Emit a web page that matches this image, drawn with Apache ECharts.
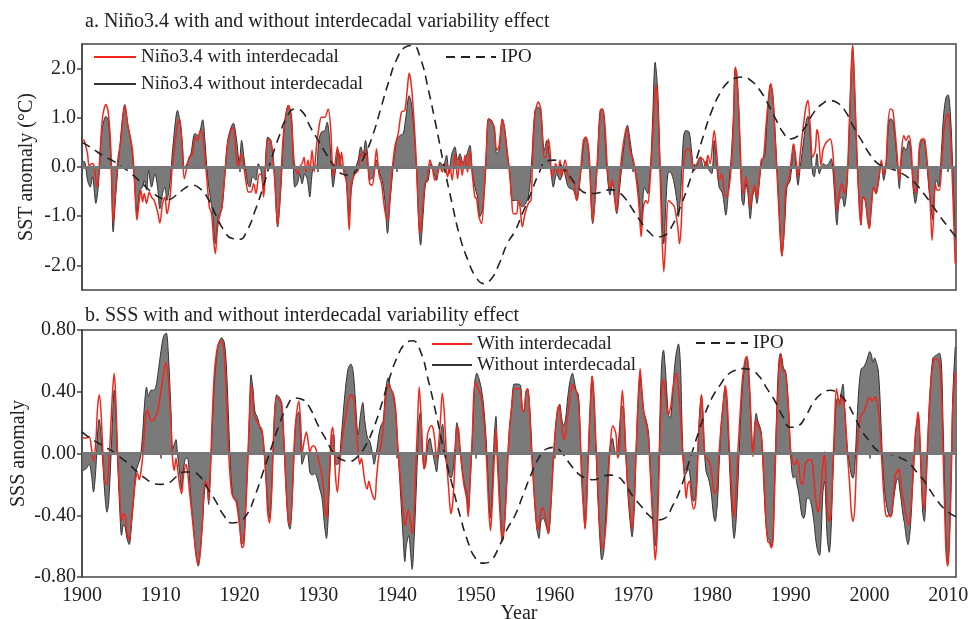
<!DOCTYPE html>
<html>
<head>
<meta charset="utf-8">
<script src="https://cdn.jsdelivr.net/npm/echarts@6/dist/echarts.min.js"></script>
<style>
  html, body { margin: 0; background: #fff; }
  #chart { width: 968px; height: 619px; }
</style>
</head>
<body>
<div id="chart"></div>
<script>
// tick positions
const yearTicks = [1900, 1910, 1920, 1930, 1940, 1950, 1960, 1970, 1980, 1990, 2000, 2010]
const sstTicks = [-2, -1, 0, 1, 2]
const sssTicks = [-0.8, -0.4, 0, 0.4, 0.8]

// panel a: Nino3.4 SST anomaly, [year, value]
const sstWith = [
  [1900.06,0.55],[1900.28,0.54],[1900.70,0.27],[1900.91,0.03],[1901.33,0.07],[1901.55,0],[1901.89,-0.41],[1902.18,0],[1902.61,1.01],[1903.03,1.27],[1903.33,1.12],[1903.67,0.34],[1903.96,-1.12],[1904.30,-0.41],[1904.60,0.2],[1904.94,0.54],[1905.44,1.25],[1905.78,0.88],[1906.12,0.61],[1906.42,0.34],[1906.72,-0.41],[1906.97,-1.08],[1907.27,-0.68],[1907.48,-0.47],[1907.69,-0.71],[1907.90,-0.54],[1908.20,-0.74],[1908.54,-0.51],[1908.83,-0.61],[1909.17,-0.68],[1909.60,-0.91],[1909.89,-1.14],[1910.23,-0.74],[1910.53,-0.61],[1910.78,-0.95],[1911.21,-0.57],[1911.42,-0.07],[1911.72,0.34],[1912.14,0.88],[1912.39,0.98],[1912.65,0.61],[1912.99,-0.24],[1913.33,0],[1913.62,0.2],[1914.05,0.27],[1914.39,0.61],[1914.68,0.54],[1915.02,0.74],[1915.32,0.68],[1915.53,0.34],[1915.87,-0.27],[1916.17,-0.81],[1916.46,-0.95],[1916.72,-1.49],[1916.93,-1.76],[1917.22,-1.22],[1917.56,-0.95],[1917.78,-0.81],[1918.07,-0.27],[1918.50,0.47],[1918.92,0.74],[1919.22,0.81],[1919.56,0.27],[1919.85,-0.03],[1920.19,0.27],[1920.49,0.07],[1920.83,-0.3],[1921.12,-0.51],[1921.46,-0.51],[1921.80,-0.34],[1922.10,-0.54],[1922.52,-0.14],[1922.82,-0.17],[1923.07,-0.61],[1923.37,0.14],[1923.58,0.57],[1923.92,0.54],[1924.22,0.27],[1924.51,-0.34],[1924.85,-1.18],[1925.19,-0.47],[1925.49,0.47],[1925.78,0.95],[1926.21,1.25],[1926.55,1.01],[1926.97,0.07],
  [1927.36,-0.14],[1927.66,0],[1927.95,0.07],[1928.21,0.2],[1928.42,-0.1],[1928.71,0.14],[1928.93,-0.07],[1929.22,0.34],[1929.48,-0.1],[1929.77,0.41],[1930.07,0.78],[1930.41,1.01],[1930.83,1.01],[1931.26,1.18],[1931.60,0.74],[1931.89,-0.2],[1932.10,0],[1932.44,0.41],[1932.74,0],[1932.95,0.3],[1933.29,-0.14],[1933.59,-0.27],[1933.93,-1.28],[1934.22,-0.34],[1934.65,-0.14],[1935.07,-0.07],[1935.41,0.27],[1935.71,0.2],[1936.00,0.34],[1936.34,-0.03],[1936.55,-0.34],[1936.85,-0.37],[1937.10,-0.14],[1937.40,0.37],[1937.70,-0.14],[1938.04,-0.34],[1938.46,-0.88],[1938.80,-1.08],[1939.10,-0.61],[1939.39,-0.07],[1939.73,0.41],[1940.16,0.68],[1940.58,1.12],[1941.00,1.15],[1941.30,1.56],[1941.55,1.91],[1941.85,1.62],[1942.19,0.88],[1942.49,0],[1942.70,-0.81],[1942.91,-1.35],[1943.21,-0.95],[1943.55,-0.34],[1943.89,-0.2],[1944.18,0.14],[1944.48,0],[1944.82,-0.27],[1945.15,-0.14],[1945.45,0.03],[1945.75,-0.1],[1946.09,0.07],[1946.43,-0.2],[1946.72,0.03],[1947.02,-0.27],[1947.36,0.27],[1947.70,-0.24],[1948.00,0.2],[1948.29,-0.17],[1948.63,0.24],[1948.97,-0.1],[1949.27,0.34],[1949.56,-0.14],[1949.90,-0.61],[1950.11,-0.64],[1950.41,-1.01],[1950.75,-1.15],[1951.09,-0.47],[1951.38,0.41],[1951.68,0.98],[1952.02,0.91],[1952.36,0.81],[1952.66,0.34],[1952.95,0.41],[1953.38,0.96],[1953.63,0.81],[1953.93,0.34],[1954.22,0],[1954.56,-0.61],[1954.77,-0.95],
  [1955.20,-0.95],[1955.41,-0.68],[1955.63,-0.81],[1955.92,-1.22],[1956.26,-0.95],[1956.68,-0.74],[1957.02,-0.68],[1957.19,0],[1957.53,1.08],[1957.96,1.32],[1958.29,1.15],[1958.68,0.2],[1958.93,0.2],[1959.23,0.57],[1959.44,0.34],[1959.65,-0.2],[1959.86,-0.14],[1960.16,0.07],[1960.41,-0.14],[1960.71,0.14],[1960.92,-0.2],[1961.35,0.14],[1961.77,-0.2],[1962.11,-0.3],[1962.40,-0.27],[1962.83,-0.68],[1963.25,-0.2],[1963.68,0.54],[1963.97,0.61],[1964.40,0.27],[1964.65,-0.68],[1964.86,-1.12],[1965.16,-0.61],[1965.58,0.47],[1965.88,1.15],[1966.13,1.18],[1966.43,0.81],[1966.77,-0.14],[1967.06,-0.44],[1967.36,-0.27],[1967.57,-0.54],[1967.91,-0.91],[1968.21,-0.34],[1968.63,0.34],[1969.18,0.81],[1969.61,0.34],[1970.03,0.14],[1970.46,-0.34],[1970.75,-0.81],[1971.01,-1.42],[1971.30,-0.81],[1971.60,-0.68],[1971.85,-0.74],[1972.15,-0.27],[1972.45,0.54],[1972.70,1.28],[1972.91,1.66],[1973.12,1.28],[1973.42,-0.14],[1973.68,-1.49],[1973.89,-2.13],[1974.14,-1.49],[1974.48,-0.68],[1974.90,-0.74],[1975.24,-0.81],[1975.67,-1.22],[1975.88,-1.56],[1976.09,-1.22],[1976.39,0],[1976.68,0.34],[1977.02,0.37],[1977.36,0.24],[1977.66,-0.07],[1978.08,0],[1978.51,0.2],[1978.93,0.14],[1979.23,0],[1979.48,0.24],[1979.78,0.07],[1980.29,0.74],[1980.62,0.27],[1980.92,-0.27],[1981.26,-0.14],[1981.60,-0.54],[1981.89,-0.61],[1982.19,-0.41],[1982.45,0],[1982.74,0.88],
  [1982.96,2.03],[1983.17,1.89],[1983.38,1.22],[1983.60,0.41],[1983.81,-0.41],[1984.02,-0.54],[1984.32,-0.2],[1984.57,-0.41],[1984.87,-0.81],[1985.16,-0.54],[1985.42,-0.37],[1985.71,-0.61],[1986.01,-0.27],[1986.27,0.14],[1986.56,0.2],[1986.86,0.81],[1987.20,1.42],[1987.45,1.69],[1987.75,1.42],[1988.04,0.54],[1988.38,-0.47],[1988.68,-1.42],[1988.89,-1.81],[1989.10,-1.42],[1989.40,-0.41],[1989.74,-0.27],[1990.08,0.14],[1990.37,0.47],[1990.59,0.27],[1990.93,-0.2],[1991.22,0.27],[1991.65,0.88],[1991.94,1.22],[1992.20,1.35],[1992.49,0.81],[1992.79,0.2],[1993.13,0.34],[1993.34,0.76],[1993.55,0.61],[1993.85,0.03],[1994.10,0.34],[1994.40,0.47],[1994.74,0.54],[1995.04,0.57],[1995.33,0.34],[1995.59,-0.27],[1995.88,-0.88],[1996.18,-0.54],[1996.52,-0.34],[1996.81,-0.54],[1997.15,-0.27],[1997.45,0.88],[1997.71,2.03],[1997.87,2.47],[1998.13,1.56],[1998.43,0.2],[1998.72,-0.81],[1998.93,-1.18],[1999.19,-0.61],[1999.48,-0.68],[1999.78,-1.08],[1999.99,-1.25],[2000.25,-0.81],[2000.54,-0.41],[2000.84,-0.54],[2001.18,-0.27],[2001.52,0.14],[2001.82,-0.14],[2002.11,0.07],[2002.37,0.88],[2002.66,1.18],[2002.96,1.15],[2003.21,0.81],[2003.51,0.27],[2003.81,-0.27],[2004.06,0.27],[2004.36,0.64],[2004.66,0.54],[2004.99,0.64],[2005.29,0.41],[2005.54,-0.27],[2005.84,-0.54],[2006.14,-0.27],[2006.35,0.41],[2006.69,0.57],[2006.98,0.57],[2007.20,0.34],[2007.54,-0.27],[2007.75,-0.81],[2007.96,-1.49],[2008.17,-0.95],[2008.38,-0.34],[2008.59,-0.47],[2008.89,-0.47],[2009.23,0.2],[2009.57,0.88],[2009.95,1.08],[2010.29,0.68],[2010.58,-0.47],[2010.90,-1.96]
]
const sstWithout = [
  [1900.06,0.12],[1900.36,0.1],[1900.70,-0.27],[1901.04,-0.41],[1901.33,-0.2],[1901.76,-0.74],[1902.10,-0.34],[1902.48,0.68],[1903.03,1.03],[1903.33,0.95],[1903.67,0.14],[1903.96,-1.32],[1904.30,-0.54],[1904.72,0.27],[1905.44,1.27],[1905.87,0.81],[1906.21,0.54],[1906.55,0],[1906.97,-0.95],[1907.35,-0.47],[1907.69,-0.41],[1907.90,-0.27],[1908.20,-0.47],[1908.45,-0.07],[1908.83,-0.41],[1909.26,-0.14],[1909.60,-0.41],[1909.89,-0.85],[1910.23,-0.54],[1910.53,-0.41],[1910.78,-0.68],[1911.21,-0.27],[1911.50,0.34],[1912.14,1.15],[1912.48,0.88],[1912.78,0.41],[1912.99,-0.03],[1913.33,0.07],[1913.83,0.27],[1914.34,0.68],[1914.77,0.64],[1915.32,0.96],[1915.61,0.54],[1915.95,-0.2],[1916.29,-0.61],[1916.59,-0.95],[1916.93,-1.56],[1917.31,-1.01],[1917.73,-0.88],[1918.07,-0.34],[1918.50,0.54],[1919.22,0.89],[1919.64,0.54],[1919.98,0.07],[1920.27,0.54],[1920.61,0.14],[1921.04,-0.34],[1921.33,-0.41],[1921.67,-0.2],[1922.10,-0.27],[1922.39,0.07],[1922.73,-0.07],[1923.07,-0.44],[1923.58,0.61],[1924.00,0.54],[1924.42,-0.14],[1924.85,-1.22],[1925.27,-0.41],[1925.69,0.81],[1926.21,1.26],[1926.63,1.01],
  [1927.02,-0.41],[1927.36,-0.34],[1927.66,-0.14],[1927.95,-0.34],[1928.29,-0.14],[1928.63,-0.27],[1928.93,-0.61],[1929.22,-0.14],[1929.48,0.03],[1929.77,0],[1930.07,0.54],[1930.41,0.71],[1930.83,0.74],[1931.13,0.91],[1931.47,0.54],[1931.89,-0.41],[1932.19,-0.07],[1932.53,0.34],[1932.95,0.03],[1933.38,-0.1],[1933.67,-0.5],[1933.93,-1.0],[1934.22,-0.45],[1934.65,-0.07],[1935.07,0.14],[1935.41,0.41],[1935.71,0.27],[1936.00,0.54],[1936.26,0.27],[1936.55,-0.27],[1936.98,-0.2],[1937.40,0.14],[1937.82,-0.14],[1938.12,-0.27],[1938.46,-0.68],[1938.80,-1.35],[1939.14,-0.68],[1939.52,0],[1939.94,0.54],[1940.37,0.64],[1940.79,0.68],[1941.13,1.01],[1941.55,1.45],[1941.85,1.28],[1942.19,0.68],[1942.49,-0.07],[1942.78,-1.22],[1943.00,-1.59],[1943.33,-0.95],[1943.63,-0.34],[1943.97,-0.27],[1944.31,0.07],[1944.60,-0.07],[1945.03,-0.27],[1945.45,0.1],[1945.88,0.03],[1946.30,0.24],[1946.60,-0.14],[1946.93,0.24],[1947.36,0.41],[1947.70,0.14],[1948.00,0.27],[1948.42,0.07],[1948.84,0.24],[1949.27,0.44],[1949.56,-0.07],[1949.90,-0.41],[1950.24,-0.61],[1950.54,-1.01],[1950.87,-0.88],[1951.25,-0.14],[1951.60,0.98],[1952.02,0.95],[1952.36,0.78],[1952.66,0.27],[1952.95,0.34],[1953.38,0.98],[1953.72,0.74],[1954.05,0.27],[1954.35,-0.14],[1954.65,-0.68],
  [1955.20,-0.68],[1955.92,-0.81],[1956.68,-0.61],[1957.11,0.14],[1957.53,1.15],[1957.96,1.22],[1958.29,1.08],[1958.72,0.34],[1959.02,0.54],[1959.44,0.14],[1959.86,-0.41],[1960.29,-0.14],[1960.71,-0.27],[1961.13,-0.07],[1961.77,-0.41],[1962.40,-0.47],[1962.83,-0.68],[1963.25,-0.27],[1963.76,0.54],[1964.01,0.61],[1964.40,0.2],[1964.86,-1.15],[1965.37,-0.14],[1965.88,1.18],[1966.22,1.15],[1966.64,0],[1967.06,-0.57],[1967.36,-0.34],[1967.91,-0.95],[1968.34,-0.34],[1968.76,0.34],[1969.27,0.85],[1969.61,0.54],[1969.90,0.2],[1970.33,-0.14],[1970.67,-0.47],[1971.01,-1.22],[1971.43,-0.41],[1971.85,-0.54],[1972.15,-0.14],[1972.45,0.88],[1972.79,2.13],[1973.12,1.55],[1973.46,-0.14],[1973.72,-1.22],[1973.89,-1.56],[1974.14,-0.81],[1974.40,-0.14],[1974.69,-0.1],[1975.12,-0.27],[1975.54,-0.68],[1975.75,-1.01],[1976.05,-0.47],[1976.39,0.61],[1976.68,0.74],[1977.11,0.71],[1977.45,0.27],[1977.74,-0.07],[1978.08,0.07],[1978.51,0.2],[1978.93,0],[1979.35,0.14],[1979.65,-0.07],[1979.99,-0.14],[1980.29,0.54],[1980.62,0],[1980.92,-0.41],[1981.35,-0.54],[1981.77,-0.98],[1982.11,-0.47],[1982.45,0.2],[1982.74,1.08],
  [1982.96,2.0],[1983.30,1.56],[1983.55,0.54],[1983.81,-0.68],[1984.02,-0.78],[1984.32,-0.34],[1984.57,-0.54],[1984.87,-1.05],[1985.16,-0.61],[1985.42,-0.47],[1985.71,-0.74],[1986.01,-0.34],[1986.35,0.14],[1986.69,0.2],[1987.03,1.01],[1987.45,1.69],[1987.75,1.42],[1988.13,0.41],[1988.47,-0.68],[1988.89,-1.81],[1989.23,-1.22],[1989.53,-0.41],[1989.95,-0.27],[1990.37,0.47],[1990.67,0],[1990.93,-0.37],[1991.22,0],[1991.65,0.54],[1991.99,0.95],[1992.20,1.03],[1992.49,0.61],[1992.79,-0.14],[1993.00,-0.2],[1993.34,0.27],[1993.64,-0.14],[1993.89,-0.03],[1994.19,0.07],[1994.49,0.03],[1994.82,0.07],[1995.16,0.17],[1995.46,-0.27],[1995.88,-1.18],[1996.18,-0.68],[1996.52,-0.61],[1996.81,-0.81],[1997.15,-0.41],[1997.45,0.81],[1997.71,2.03],[1997.87,2.47],[1998.13,1.56],[1998.43,0.2],[1998.72,-0.81],[1998.93,-1.18],[1999.19,-0.61],[1999.48,-0.68],[1999.78,-1.08],[1999.99,-1.25],[2000.25,-0.81],[2000.54,-0.41],[2000.84,-0.54],[2001.18,-0.27],[2001.52,0.07],[2001.82,-0.27],[2002.11,0],[2002.37,0.74],[2002.66,0.98],[2002.96,0.95],[2003.21,0.68],[2003.51,0.14],[2003.81,-0.44],[2004.06,0.14],[2004.36,0.41],[2004.66,0.34],[2004.99,0.54],[2005.29,0.27],[2005.54,-0.41],[2005.84,-0.74],[2006.14,-0.41],[2006.35,0.34],[2006.69,0.55],[2006.98,0.54],[2007.20,0.27],[2007.54,-0.41],[2007.83,-0.81],[2008.04,-1.08],[2008.30,-0.47],[2008.51,-0.27],[2008.81,-0.41],[2009.15,0.34],[2009.44,1.08],[2009.74,1.42],[2009.99,1.47],[2010.29,1.08],[2010.58,0],[2010.90,-1.49]
]
const sstIpo = [
  [1900,0.5],[1901,0.41],[1902,0.3],[1903,0.2],[1904,0.12],[1905,0.01],[1906,-0.1],[1907,-0.24],[1908,-0.39],[1909,-0.53],[1910,-0.63],[1911,-0.66],[1912,-0.57],[1913,-0.44],[1914,-0.37],[1915,-0.44],[1916,-0.64],[1917,-0.98],[1918,-1.28],[1919,-1.45],[1920,-1.47],[1921,-1.28],[1922,-0.88],[1923,-0.41],[1924,0.14],[1925,0.61],[1926,1.01],[1927,1.18],[1928,1.12],[1929,0.81],[1930,0.54],[1931,0.27],[1932,0.03],[1933,-0.14],[1934,-0.17],[1935,-0.03],[1936,0.27],[1937,0.68],[1938,1.22],[1939,1.76],[1940,2.2],[1941,2.43],[1942,2.47],[1943,2.2],[1944,1.56],[1945,0.81],[1946,0],[1947,-0.74],[1948,-1.42],[1949,-1.89],[1950,-2.23],[1951,-2.37],[1952,-2.27],[1953,-1.96],[1954,-1.56],[1955,-1.3],[1956,-0.92],[1957,-0.54],[1958,-0.14],[1959,0.12],[1960,0.14],[1961,0],[1962,-0.2],[1963,-0.41],[1964,-0.53],[1965,-0.54],[1966,-0.51],[1967,-0.46],[1968,-0.5],[1969,-0.64],[1970,-0.88],[1971,-1.12],[1972,-1.32],[1973,-1.42],[1974,-1.39],[1975,-1.18],[1976,-0.81],[1977,-0.37],[1978,0.14],[1979,0.68],[1980,1.15],[1981,1.49],[1982,1.72],[1983,1.81],[1984,1.83],[1985,1.75],[1986,1.58],[1987,1.32],[1988,1.01],[1989,0.71],[1990,0.57],[1991,0.64],[1992,0.85],[1993,1.12],[1994,1.28],[1995,1.35],[1996,1.3],[1997,1.12],[1998,0.81],[1999,0.54],[2000,0.27],[2001,0.08],[2002,0],[2003,-0.05],[2004,-0.12],[2005,-0.22],[2006,-0.36],[2007,-0.56],[2008,-0.78],[2009,-1.01],[2010,-1.22],[2011,-1.42]
]

// panel b: SSS anomaly, [year, value]
const sssWith = [
  [1900.06,0.1],[1900.49,0.1],[1900.91,0.11],[1901.21,0.03],[1901.46,-0.05],[1901.76,0.08],[1901.97,0.29],[1902.18,0.38],[1902.39,0.29],[1902.69,-0.03],[1902.90,-0.18],[1903.16,-0.2],[1903.45,-0.03],[1903.67,0.19],[1903.88,0.4],[1904.09,0.52],[1904.30,0.34],[1904.51,0.01],[1904.81,-0.29],[1905.02,-0.44],[1905.28,-0.39],[1905.49,-0.4],[1905.70,-0.51],[1906.00,-0.56],[1906.29,-0.42],[1906.55,-0.29],[1906.84,-0.16],[1907.05,-0.13],[1907.27,-0.17],[1907.48,-0.12],[1907.69,-0.03],[1907.90,0.12],[1908.11,0.25],[1908.33,0.28],[1908.54,0.24],[1908.83,0.21],[1909.09,0.22],[1909.38,0.24],[1909.68,0.29],[1910.02,0.4],[1910.36,0.52],[1910.66,0.59],[1910.95,0.49],[1911.29,0.21],[1911.50,-0.03],[1911.72,-0.11],[1911.93,-0.03],[1912.14,-0.1],[1912.39,-0.2],[1912.65,-0.26],[1912.90,-0.14],[1913.20,-0.07],[1913.41,-0.12],[1913.62,-0.23],[1913.83,-0.33],[1914.13,-0.48],[1914.47,-0.64],[1914.77,-0.72],[1915.02,-0.64],[1915.32,-0.42],[1915.61,-0.18],[1915.87,-0.2],[1916.08,-0.31],[1916.29,-0.14],[1916.50,0.18],[1916.80,0.51],[1917.14,0.67],[1917.56,0.73],[1917.90,0.71],[1918.16,0.57],[1918.41,0.27],[1918.71,-0.07],[1919.00,-0.25],[1919.26,-0.29],[1919.56,-0.31],[1919.77,-0.37],[1920.11,-0.51],[1920.32,-0.61],[1920.53,-0.6],[1920.74,-0.42],[1921.04,-0.07],[1921.25,0.23],[1921.46,0.44],[1921.67,0.38],[1921.88,0.25],[1922.22,0.21],[1922.52,0.18],[1922.82,0.16],[1923.07,0.06],[1923.37,-0.16],[1923.58,-0.38],[1923.83,-0.45],[1924.09,-0.25],[1924.34,0.12],[1924.64,0.36],[1924.85,0.36],[1925.10,0.34],[1925.36,0.33],[1925.61,0.12],[1925.91,-0.2],[1926.21,-0.44],[1926.42,-0.46],[1926.76,-0.2],
  [1927.02,0.12],[1927.23,0.25],[1927.53,0.34],[1927.78,0.19],[1927.95,0],[1928.21,0.08],[1928.50,0.14],[1928.71,0.08],[1928.93,0.01],[1929.14,0.04],[1929.44,0.05],[1929.69,0.03],[1929.99,-0.03],[1930.32,-0.1],[1930.62,-0.2],[1930.83,-0.33],[1931.05,-0.42],[1931.26,-0.29],[1931.47,-0.07],[1931.68,0.14],[1931.85,0.17],[1932.02,0.05],[1932.19,-0.14],[1932.44,-0.25],[1932.66,-0.12],[1932.95,0.05],[1933.29,0.18],[1933.59,0.27],[1933.88,0.36],[1934.22,0.38],[1934.56,0.34],[1934.86,0.14],[1935.07,0.01],[1935.28,-0.07],[1935.49,-0.03],[1935.71,-0.1],[1935.92,-0.18],[1936.21,-0.23],[1936.43,-0.18],[1936.68,-0.23],[1936.89,-0.27],[1937.19,-0.3],[1937.40,-0.16],[1937.70,-0.01],[1937.95,0.05],[1938.25,0.16],[1938.54,0.34],[1938.88,0.45],[1939.18,0.42],[1939.43,0.4],[1939.65,0.36],[1939.86,0.27],[1940.15,0.01],[1940.49,-0.2],[1940.79,-0.38],[1941.00,-0.47],[1941.21,-0.42],[1941.43,-0.37],[1941.68,-0.42],[1941.93,-0.52],[1942.19,-0.38],[1942.36,-0.12],[1942.61,0.18],[1942.82,0.43],[1943.04,0.27],[1943.25,0.01],[1943.46,-0.1],[1943.67,-0.03],[1943.88,0.12],[1944.18,0.17],[1944.39,0.18],[1944.60,0.16],[1944.82,0.08],[1945.03,-0.03],[1945.24,0.03],[1945.54,0.23],[1945.75,0.39],[1946.00,0.27],[1946.30,-0.03],[1946.60,-0.25],[1946.85,-0.39],[1947.10,-0.31],[1947.36,-0.07],[1947.57,0.16],[1947.78,0.17],[1947.99,0.05],[1948.20,-0.07],[1948.50,-0.2],[1948.84,-0.29],[1949.05,-0.41],[1949.26,-0.2],[1949.56,0.1],[1949.77,0.39],[1949.98,0.46],[1950.32,0.42],[1950.62,0.38],[1950.87,0.3],[1951.17,0.14],[1951.47,-0.14],[1951.68,-0.38],[1951.89,-0.5],[1952.10,-0.33],[1952.36,-0.03],[1952.57,0.16],[1952.78,-0.07],[1953.08,-0.38],[1953.37,-0.57],[1953.63,-0.48],[1953.93,-0.2],[1954.22,0.1],[1954.56,0.29],[1954.90,0.42],
  [1955.33,0.42],[1955.63,0.42],[1955.92,0.29],[1956.13,0.27],[1956.39,0.4],[1956.60,0.42],[1956.81,0.31],[1957.02,0.08],[1957.32,-0.18],[1957.62,-0.38],[1957.87,-0.5],[1958.17,-0.42],[1958.46,-0.35],[1958.72,-0.38],[1959.02,-0.46],[1959.23,-0.52],[1959.44,-0.4],[1959.74,-0.16],[1960.07,0.12],[1960.37,0.27],[1960.58,0.31],[1960.84,0.23],[1961.05,0.12],[1961.26,0.09],[1961.56,0.19],[1961.85,0.31],[1962.11,0.41],[1962.32,0.45],[1962.53,0.42],[1962.74,0.41],[1963.04,0.34],[1963.25,0.14],[1963.46,-0.16],[1963.68,-0.35],[1963.89,-0.49],[1964.10,-0.31],[1964.31,0.01],[1964.57,0.33],[1964.78,0.5],[1964.99,0.4],[1965.24,0.1],[1965.50,-0.2],[1965.71,-0.44],[1965.92,-0.57],[1966.13,-0.62],[1966.43,-0.53],[1966.68,-0.35],[1966.94,-0.07],[1967.19,0.12],[1967.40,0.18],[1967.62,0.16],[1967.83,0.12],[1968.04,-0.03],[1968.25,0.01],[1968.46,0.29],[1968.63,0.41],[1968.80,0.29],[1969.06,0.01],[1969.31,-0.2],[1969.61,-0.38],[1969.86,-0.49],[1970.12,-0.33],[1970.37,0.01],[1970.58,0.29],[1970.88,0.55],[1971.09,0.42],[1971.35,0.27],[1971.64,0.2],[1971.94,0.1],[1972.15,-0.1],[1972.36,-0.31],[1972.62,-0.55],[1972.79,-0.69],[1973.00,-0.57],[1973.21,-0.27],[1973.42,0.14],[1973.63,0.4],[1973.85,0.48],[1974.06,0.4],[1974.27,0.29],[1974.48,0.25],[1974.78,0.31],[1974.99,0.4],[1975.20,0.47],[1975.46,0.52],[1975.67,0.47],[1975.88,0.34],[1976.09,0.16],[1976.30,-0.01],[1976.51,-0.14],[1976.73,-0.29],[1976.94,-0.2],[1977.15,-0.18],[1977.36,-0.27],[1977.66,-0.36],[1977.87,-0.34],[1978.08,-0.2],[1978.29,0.08],[1978.51,0.29],[1978.67,0.38],[1978.84,0.27],[1979.06,0.01],[1979.27,-0.03],[1979.56,-0.04],[1979.90,-0.1],[1980.20,-0.23],[1980.41,-0.26],[1980.71,-0.18],[1980.92,0.01],[1981.17,0.18],[1981.43,0.31],[1981.68,0.44],[1981.94,0.34],[1982.23,0.01],[1982.53,-0.25],[1982.83,-0.42],
  [1983.05,-0.25],[1983.30,0.01],[1983.60,0.27],[1983.89,0.49],[1984.23,0.61],[1984.44,0.63],[1984.65,0.55],[1984.87,0.34],[1985.08,0.08],[1985.21,-0.02],[1985.38,0.1],[1985.59,0.22],[1985.80,0.18],[1986.05,0.16],[1986.27,0.12],[1986.48,-0.03],[1986.69,-0.25],[1986.90,-0.46],[1987.11,-0.57],[1987.32,-0.58],[1987.54,-0.61],[1987.75,-0.57],[1987.96,-0.25],[1988.17,0.12],[1988.38,0.4],[1988.55,0.57],[1988.72,0.64],[1988.89,0.57],[1989.10,0.53],[1989.32,0.53],[1989.53,0.42],[1989.74,0.29],[1989.95,0.05],[1990.16,-0.03],[1990.37,-0.07],[1990.59,-0.07],[1990.80,-0.04],[1991.01,-0.07],[1991.22,-0.18],[1991.43,-0.2],[1991.65,-0.16],[1991.86,-0.07],[1992.07,-0.05],[1992.28,-0.04],[1992.54,-0.04],[1992.79,-0.07],[1993.00,-0.2],[1993.21,-0.31],[1993.47,-0.38],[1993.68,-0.33],[1993.89,-0.2],[1994.10,-0.07],[1994.32,0.01],[1994.49,-0.18],[1994.65,-0.36],[1994.91,-0.44],[1995.12,-0.38],[1995.33,-0.14],[1995.59,0.21],[1995.80,0.42],[1996.01,0.37],[1996.22,0.31],[1996.43,0.36],[1996.65,0.35],[1996.86,0.29],[1997.07,0.12],[1997.28,-0.05],[1997.49,-0.2],[1997.71,-0.38],[1997.92,-0.44],[1998.13,-0.36],[1998.34,-0.1],[1998.55,0.12],[1998.76,0.21],[1998.98,0.25],[1999.27,0.27],[1999.57,0.31],[1999.82,0.35],[2000.12,0.36],[2000.33,0.34],[2000.54,0.35],[2000.76,0.37],[2000.97,0.34],[2001.18,0.27],[2001.39,0.12],[2001.60,-0.07],[2001.81,-0.25],[2002.03,-0.38],[2002.24,-0.41],[2002.45,-0.4],[2002.66,-0.41],[2002.87,-0.38],[2003.09,-0.25],[2003.30,-0.14],[2003.51,-0.12],[2003.72,-0.1],[2003.93,-0.16],[2004.14,-0.25],[2004.36,-0.31],[2004.57,-0.38],[2004.78,-0.44],[2004.99,-0.46],[2005.20,-0.4],[2005.41,-0.25],[2005.63,-0.07],[2005.84,0.12],[2006.05,0.21],[2006.18,0.27],[2006.35,0.18],[2006.56,-0.1],[2006.77,-0.31],[2006.98,-0.36],[2007.19,-0.18],[2007.41,0.08],[2007.62,0.29],[2007.87,0.49],[2008.08,0.58],[2008.30,0.61],[2008.59,0.61],[2008.89,0.59],[2009.15,0.4],[2009.36,0.01],[2009.57,-0.38],[2009.74,-0.64],[2009.95,-0.73],[2010.16,-0.57],[2010.42,-0.1],[2010.58,0.29],[2010.90,0.53]
]
const sssWithout = [
  [1900.06,-0.11],[1900.49,-0.1],[1900.91,-0.07],[1901.21,-0.14],[1901.46,-0.25],[1901.76,-0.1],[1901.97,0.12],[1902.18,0.22],[1902.39,0.14],[1902.69,-0.1],[1902.94,-0.29],[1903.16,-0.38],[1903.37,-0.33],[1903.67,-0.03],[1903.88,0.23],[1904.09,0.41],[1904.30,0.27],[1904.51,-0.03],[1904.81,-0.38],[1905.02,-0.53],[1905.28,-0.46],[1905.49,-0.48],[1905.70,-0.55],[1906.00,-0.59],[1906.29,-0.46],[1906.55,-0.31],[1906.84,-0.12],[1907.14,-0.07],[1907.40,-0.03],[1907.69,0.12],[1907.90,0.29],[1908.20,0.43],[1908.45,0.37],[1908.75,0.41],[1909.09,0.41],[1909.38,0.43],[1909.68,0.53],[1910.02,0.66],[1910.36,0.76],[1910.70,0.78],[1910.95,0.66],[1911.29,0.29],[1911.50,0.03],[1911.72,0.06],[1911.93,0.09],[1912.14,-0.01],[1912.39,-0.12],[1912.65,-0.23],[1912.90,-0.1],[1913.20,-0.03],[1913.41,-0.03],[1913.62,-0.14],[1913.83,-0.29],[1914.13,-0.46],[1914.47,-0.66],[1914.77,-0.73],[1915.02,-0.64],[1915.32,-0.44],[1915.61,-0.22],[1915.87,-0.2],[1916.08,-0.33],[1916.29,-0.14],[1916.59,0.23],[1916.89,0.51],[1917.22,0.68],[1917.73,0.75],[1918.07,0.72],[1918.33,0.57],[1918.58,0.27],[1918.84,-0.07],[1919.13,-0.27],[1919.43,-0.29],[1919.68,-0.31],[1919.98,-0.44],[1920.28,-0.59],[1920.53,-0.57],[1920.74,-0.4],[1921.04,-0.07],[1921.25,0.23],[1921.46,0.51],[1921.71,0.42],[1921.97,0.27],[1922.31,0.23],[1922.65,0.16],[1922.94,0.12],[1923.24,-0.07],[1923.58,-0.31],[1923.83,-0.42],[1924.09,-0.23],[1924.43,0.23],[1924.72,0.38],[1924.98,0.37],[1925.28,0.34],[1925.61,0.12],[1925.91,-0.23],[1926.21,-0.46],[1926.42,-0.49],[1926.76,-0.23],
  [1927.02,0.12],[1927.23,0.23],[1927.53,0.27],[1927.78,0.08],[1927.95,-0.07],[1928.21,-0.03],[1928.50,0.01],[1928.71,-0.01],[1928.93,-0.12],[1929.22,-0.14],[1929.56,-0.13],[1929.86,-0.16],[1930.20,-0.23],[1930.49,-0.29],[1930.75,-0.44],[1931.05,-0.55],[1931.26,-0.42],[1931.47,-0.14],[1931.77,0.12],[1931.98,0.12],[1932.19,-0.07],[1932.53,-0.07],[1932.95,0.12],[1933.38,0.38],[1933.80,0.55],[1934.14,0.58],[1934.44,0.53],[1934.73,0.34],[1935.07,0.12],[1935.37,0.25],[1935.66,0.33],[1935.92,0.21],[1936.26,0.1],[1936.55,0.08],[1936.85,0.01],[1937.10,-0.07],[1937.40,0.01],[1937.70,0.12],[1937.95,0.18],[1938.25,0.21],[1938.54,0.4],[1938.88,0.49],[1939.22,0.42],[1939.52,0.38],[1939.82,0.27],[1940.15,0.01],[1940.49,-0.29],[1940.79,-0.55],[1941.00,-0.7],[1941.21,-0.59],[1941.51,-0.53],[1941.72,-0.64],[1941.93,-0.75],[1942.19,-0.55],[1942.49,-0.18],[1942.78,0.21],[1942.99,0.27],[1943.25,0.01],[1943.46,-0.1],[1943.67,-0.07],[1943.88,0.05],[1944.18,0.1],[1944.39,0.05],[1944.60,-0.01],[1944.82,-0.07],[1945.03,-0.12],[1945.24,-0.03],[1945.54,0.12],[1945.79,0.19],[1946.09,0.01],[1946.38,-0.1],[1946.60,-0.14],[1946.85,-0.16],[1947.10,-0.12],[1947.36,0.03],[1947.61,0.2],[1947.87,0.1],[1948.20,-0.07],[1948.54,-0.19],[1948.84,-0.25],[1949.05,-0.38],[1949.31,-0.18],[1949.61,0.14],[1949.90,0.47],[1950.15,0.52],[1950.45,0.48],[1950.75,0.41],[1951.04,0.29],[1951.34,0.08],[1951.60,-0.2],[1951.85,-0.42],[1952.10,-0.25],[1952.36,0.12],[1952.57,0.24],[1952.78,-0.03],[1953.08,-0.31],[1953.37,-0.55],[1953.63,-0.48],[1953.93,-0.2],[1954.22,0.12],[1954.56,0.31],[1954.90,0.45],
  [1955.41,0.45],[1955.71,0.44],[1955.92,0.29],[1956.13,0.27],[1956.39,0.4],[1956.60,0.42],[1956.90,0.27],[1957.19,-0.03],[1957.45,-0.29],[1957.74,-0.48],[1958.04,-0.55],[1958.29,-0.44],[1958.59,-0.42],[1958.89,-0.46],[1959.23,-0.52],[1959.52,-0.38],[1959.86,-0.03],[1960.16,0.18],[1960.41,0.29],[1960.67,0.32],[1960.92,0.23],[1961.18,0.18],[1961.43,0.23],[1961.68,0.36],[1961.98,0.47],[1962.28,0.52],[1962.53,0.47],[1962.74,0.41],[1963.04,0.38],[1963.25,0.18],[1963.46,-0.14],[1963.68,-0.33],[1963.89,-0.48],[1964.10,-0.31],[1964.31,0.01],[1964.57,0.33],[1964.78,0.5],[1965.03,0.33],[1965.29,0.01],[1965.54,-0.31],[1965.79,-0.57],[1966.01,-0.69],[1966.26,-0.64],[1966.51,-0.4],[1966.85,-0.1],[1967.11,0.05],[1967.36,0.1],[1967.62,0.03],[1967.83,-0.01],[1968.04,0.03],[1968.29,0.18],[1968.55,0.31],[1968.80,0.29],[1969.06,0.01],[1969.31,-0.25],[1969.61,-0.44],[1969.86,-0.54],[1970.12,-0.38],[1970.37,0.01],[1970.58,0.29],[1970.88,0.5],[1971.09,0.4],[1971.35,0.27],[1971.64,0.22],[1971.94,0.14],[1972.15,-0.07],[1972.36,-0.29],[1972.62,-0.51],[1972.79,-0.6],[1973.00,-0.51],[1973.21,-0.2],[1973.42,0.29],[1973.63,0.59],[1973.85,0.67],[1974.06,0.57],[1974.27,0.4],[1974.48,0.25],[1974.69,0.23],[1974.99,0.36],[1975.24,0.55],[1975.50,0.66],[1975.75,0.71],[1976.01,0.57],[1976.18,0.23],[1976.39,-0.07],[1976.60,-0.14],[1976.81,-0.12],[1977.02,-0.1],[1977.36,-0.2],[1977.66,-0.31],[1977.87,-0.29],[1978.08,-0.18],[1978.29,0.12],[1978.51,0.31],[1978.67,0.38],[1978.84,0.27],[1979.06,0.01],[1979.27,-0.12],[1979.56,-0.16],[1979.90,-0.25],[1980.20,-0.4],[1980.41,-0.44],[1980.71,-0.31],[1980.92,-0.07],[1981.17,0.18],[1981.43,0.33],[1981.68,0.42],[1981.94,0.29],[1982.23,-0.07],[1982.53,-0.38],[1982.83,-0.55],
  [1983.05,-0.45],[1983.30,-0.2],[1983.60,0.18],[1983.89,0.44],[1984.23,0.59],[1984.44,0.62],[1984.65,0.53],[1984.87,0.31],[1985.08,0.08],[1985.21,-0.01],[1985.42,0.18],[1985.63,0.26],[1985.84,0.21],[1986.05,0.18],[1986.27,0.14],[1986.48,-0.07],[1986.69,-0.31],[1986.90,-0.48],[1987.11,-0.55],[1987.32,-0.56],[1987.54,-0.61],[1987.75,-0.55],[1987.96,-0.2],[1988.17,0.18],[1988.38,0.49],[1988.55,0.62],[1988.72,0.65],[1988.89,0.62],[1989.10,0.55],[1989.32,0.54],[1989.53,0.46],[1989.74,0.29],[1989.95,0.05],[1990.16,-0.12],[1990.37,-0.16],[1990.59,-0.14],[1990.80,-0.2],[1991.01,-0.25],[1991.22,-0.33],[1991.43,-0.4],[1991.65,-0.42],[1991.86,-0.38],[1992.07,-0.29],[1992.28,-0.29],[1992.54,-0.31],[1992.79,-0.38],[1993.00,-0.46],[1993.21,-0.57],[1993.47,-0.64],[1993.68,-0.66],[1993.89,-0.51],[1994.10,-0.25],[1994.32,-0.18],[1994.49,-0.36],[1994.65,-0.55],[1994.91,-0.64],[1995.12,-0.51],[1995.33,-0.2],[1995.59,0.14],[1995.80,0.34],[1996.01,0.36],[1996.22,0.34],[1996.43,0.4],[1996.65,0.45],[1996.86,0.29],[1997.07,0.12],[1997.28,-0.01],[1997.49,-0.07],[1997.71,-0.14],[1997.92,-0.16],[1998.13,-0.1],[1998.34,0.12],[1998.55,0.33],[1998.76,0.48],[1998.98,0.55],[1999.27,0.56],[1999.57,0.59],[1999.82,0.63],[2000.04,0.66],[2000.25,0.64],[2000.46,0.59],[2000.67,0.62],[2000.88,0.59],[2001.10,0.55],[2001.31,0.4],[2001.52,0.14],[2001.73,-0.1],[2001.94,-0.25],[2002.16,-0.33],[2002.37,-0.38],[2002.58,-0.4],[2002.79,-0.4],[2003.00,-0.33],[2003.21,-0.25],[2003.43,-0.18],[2003.64,-0.16],[2003.85,-0.23],[2004.06,-0.31],[2004.27,-0.4],[2004.48,-0.46],[2004.70,-0.55],[2004.91,-0.59],[2005.12,-0.53],[2005.33,-0.38],[2005.54,-0.16],[2005.75,0.05],[2005.97,0.18],[2006.18,0.25],[2006.35,0.16],[2006.56,-0.12],[2006.77,-0.38],[2006.98,-0.44],[2007.19,-0.25],[2007.41,0.08],[2007.62,0.34],[2007.87,0.53],[2008.08,0.62],[2008.30,0.63],[2008.59,0.64],[2008.89,0.65],[2009.15,0.58],[2009.36,0.19],[2009.57,-0.25],[2009.74,-0.58],[2009.95,-0.72],[2010.16,-0.55],[2010.42,-0.08],[2010.58,0.36],[2010.90,0.69]
]
const sssIpo = [
  [1900,0.14],[1901,0.1],[1902,0.07],[1903,0.04],[1904,0.01],[1905,-0.03],[1906,-0.07],[1907,-0.12],[1908,-0.16],[1909,-0.19],[1910,-0.2],[1911,-0.19],[1912,-0.15],[1913,-0.12],[1914,-0.12],[1915,-0.15],[1916,-0.23],[1917,-0.31],[1918,-0.4],[1919,-0.45],[1920,-0.44],[1921,-0.39],[1922,-0.27],[1923,-0.12],[1924,0.03],[1925,0.18],[1926,0.3],[1927,0.36],[1928,0.35],[1929,0.29],[1930,0.18],[1931,0.09],[1932,0],[1933,-0.04],[1934,-0.05],[1935,-0.02],[1936,0.05],[1937,0.16],[1938,0.31],[1939,0.48],[1940,0.62],[1941,0.71],[1942,0.73],[1943,0.66],[1944,0.47],[1945,0.25],[1946,0.01],[1947,-0.2],[1948,-0.4],[1949,-0.57],[1950,-0.68],[1951,-0.71],[1952,-0.69],[1953,-0.6],[1954,-0.49],[1955,-0.4],[1956,-0.27],[1957,-0.14],[1958,-0.03],[1959,0.03],[1960,0.04],[1961,0],[1962,-0.07],[1963,-0.13],[1964,-0.16],[1965,-0.17],[1966,-0.15],[1967,-0.14],[1968,-0.15],[1969,-0.2],[1970,-0.28],[1971,-0.34],[1972,-0.4],[1973,-0.43],[1974,-0.42],[1975,-0.34],[1976,-0.23],[1977,-0.07],[1978,0.09],[1979,0.24],[1980,0.36],[1981,0.44],[1982,0.51],[1983,0.54],[1984,0.55],[1985,0.54],[1986,0.5],[1987,0.42],[1988,0.34],[1989,0.24],[1990,0.17],[1991,0.18],[1992,0.25],[1993,0.34],[1994,0.39],[1995,0.41],[1996,0.39],[1997,0.34],[1998,0.25],[1999,0.15],[2000,0.08],[2001,0.02],[2002,0],[2003,-0.01],[2004,-0.03],[2005,-0.06],[2006,-0.12],[2007,-0.18],[2008,-0.26],[2009,-0.33],[2010,-0.38],[2011,-0.41]
]

const font = 'Liberation Serif'
const ink = '#222'
const frame = '#444'
const red = '#f2261b'

function yearAxis(gridIndex, withLabels) {
  return {
    type: 'value', gridIndex, min: 1900, max: 2011,
    name: withLabels ? 'Year' : '', nameLocation: 'middle', nameGap: 27, nameMoveOverlap: false,
    nameTextStyle: { fontFamily: font, fontSize: 20, color: ink },
    axisLine: { lineStyle: { color: frame, width: 1.5 } },
    axisTick: { customValues: yearTicks, length: 5, lineStyle: { color: frame, width: 1.5 } },
    axisLabel: { show: withLabels, customValues: yearTicks, margin: 9, fontFamily: font, fontSize: 20, color: ink,
      formatter: v => String(v) },
    splitLine: { show: false }
  }
}

function valueAxis(gridIndex, min, max, ticks, digits, name, gap) {
  return {
    type: 'value', gridIndex, min, max,
    name, nameLocation: 'middle', nameGap: gap, nameMoveOverlap: false,
    nameTextStyle: { fontFamily: font, fontSize: 20, color: ink },
    axisLine: { lineStyle: { color: frame, width: 1.5 } },
    axisTick: { customValues: ticks, length: 5, lineStyle: { color: frame, width: 1.5 } },
    axisLabel: { customValues: ticks, margin: 6, fontFamily: font, fontSize: 20, color: ink,
      formatter: v => v.toFixed(digits) },
    splitLine: { show: false }
  }
}

function withoutSeries(name, idx, data) {
  return {
    name, type: 'line', xAxisIndex: idx, yAxisIndex: idx, data,
    smooth: 0.3, symbol: 'none', color: '#333',
    lineStyle: { color: '#333', width: 1 },
    areaStyle: { color: '#7a7a7a', opacity: 1 },
    markLine: { silent: true, symbol: 'none', label: { show: false },
      lineStyle: { color: '#777', width: 3, type: 'solid' }, data: [{ yAxis: 0 }] }
  }
}

function withSeries(name, idx, data) {
  return {
    name, type: 'line', xAxisIndex: idx, yAxisIndex: idx, data,
    smooth: 0.3, symbol: 'none', color: red,
    lineStyle: { color: red, width: 1.5 }
  }
}

function ipoSeries(idx, data) {
  return {
    name: 'IPO', type: 'line', xAxisIndex: idx, yAxisIndex: idx, data,
    smooth: true, symbol: 'none', color: '#222',
    lineStyle: { color: '#222', width: 1.6, type: [9, 6] }
  }
}

const legendText = { fontFamily: font, fontSize: 19, color: ink, lineHeight: 20 }
const noSymbol = { opacity: 0 }

const option = {
  animation: false,
  title: [
    { text: 'a. Niño3.4 with and without interdecadal variability effect', left: 80, top: 7,
      textStyle: { fontFamily: font, fontSize: 20, fontWeight: 'normal', color: ink } },
    { text: 'b. SSS with and without interdecadal variability effect', left: 80, top: 301,
      textStyle: { fontFamily: font, fontSize: 20, fontWeight: 'normal', color: ink } }
  ],
  legend: [
    { data: ['Niño3.4 with interdecadal', 'Niño3.4 without interdecadal'], orient: 'vertical',
      left: 88, top: 42, itemWidth: 42, itemHeight: 14, itemGap: 7, itemStyle: noSymbol, textStyle: legendText },
    { data: ['IPO'], left: 440, top: 42, itemWidth: 50, itemHeight: 14, itemStyle: noSymbol, textStyle: legendText },
    { data: ['With interdecadal', 'Without interdecadal'], orient: 'vertical',
      left: 426, top: 329, itemWidth: 40, itemHeight: 14, itemGap: 1, itemStyle: noSymbol, textStyle: legendText },
    { data: ['IPO'], left: 690, top: 328, itemWidth: 52, itemHeight: 14, itemStyle: noSymbol, textStyle: legendText }
  ],
  grid: [
    { left: 82, right: 12, top: 44, height: 246, show: true, borderColor: frame, borderWidth: 1.5,
      containLabel: false, outerBoundsMode: 'none' },
    { left: 82, right: 12, top: 330, height: 247, show: true, borderColor: frame, borderWidth: 1.5,
      containLabel: false, outerBoundsMode: 'none' }
  ],
  xAxis: [yearAxis(0, false), yearAxis(1, true)],
  yAxis: [
    valueAxis(0, -2.5, 2.5, sstTicks, 1, 'SST anomaly (°C)', 45),
    valueAxis(1, -0.8, 0.8, sssTicks, 2, 'SSS anomaly', 53)
  ],
  series: [
    withoutSeries('Niño3.4 without interdecadal', 0, sstWithout),
    withSeries('Niño3.4 with interdecadal', 0, sstWith),
    ipoSeries(0, sstIpo),
    withoutSeries('Without interdecadal', 1, sssWithout),
    withSeries('With interdecadal', 1, sssWith),
    ipoSeries(1, sssIpo)
  ]
}

const chart = echarts.init(document.getElementById('chart'))
chart.setOption(option)
</script>
</body>
</html>
